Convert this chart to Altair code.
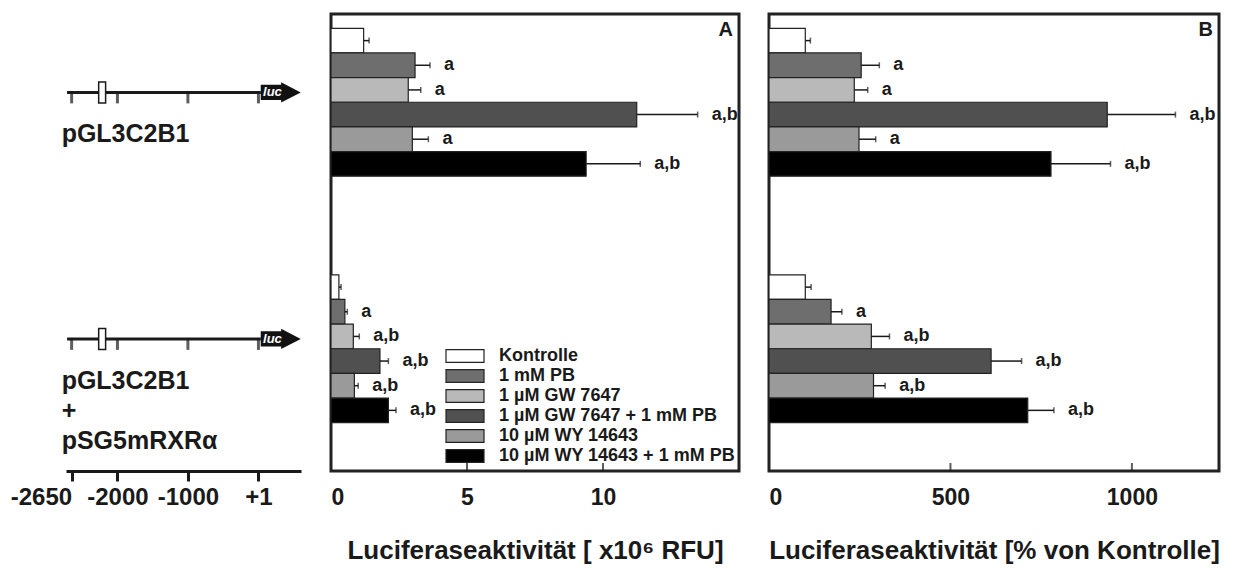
import altair as alt
import pandas as pd

# ---------------- data ----------------
treatments = ["Kontrolle", "1 mM PB", "1 µM GW 7647", "1 µM GW 7647 + 1 mM PB",
              "10 µM WY 14643", "10 µM WY 14643 + 1 mM PB"]
fill_colors = ["#ffffff", "#6e6e6e", "#b9b9b9", "#505050", "#9a9a9a", "#000000"]
constructs = ["pGL3C2B1", "pGL3C2B1\n+\npSG5mRXRα"]

# Panel A: luciferase activity [x10^6 RFU]
rfu_top = [1.20, 3.09, 2.84, 11.24, 2.99, 9.38]
rfu_top_err = [0.20, 0.55, 0.46, 2.24, 0.59, 1.99]
rfu_bot = [0.29, 0.51, 0.82, 1.80, 0.86, 2.11]
rfu_bot_err = [0.08, 0.09, 0.22, 0.31, 0.14, 0.28]

# Panel B: luciferase activity [% of control]
pct_top = [100, 254, 235, 932, 248, 777]
pct_top_err = [14, 50, 37, 188, 46, 164]
pct_bot = [100, 171, 282, 612, 288, 713]
pct_bot_err = [16, 30, 50, 84, 32, 72]

sig_top = ["", "a", "a", "a,b", "a", "a,b"]
sig_bot = ["", "a", "a,b", "a,b", "a,b", "a,b"]

ticks_a = [5, 10]
ticks_b = [500, 1000]

# promoter schematic (bp)
promoter_ticks = [-2650, -2000, -1000, 1]
promoter_start = -2715
luc_start = 35
luc_end = 600
site_center = -2217
luc_label_pos = 200

# ---------------- layout constants ----------------
GROUP_START = [0.58, 10.58]
LINE_OFFSET = 2.6
Y_MAX = 18.54
FONT = "Liberation Sans"
INK = "#1a1a1a"

rows = []
vals = [(rfu_top, rfu_top_err, pct_top, pct_top_err, sig_top),
        (rfu_bot, rfu_bot_err, pct_bot, pct_bot_err, sig_bot)]
for g, (ra, rae, pb, pbe, sg) in enumerate(vals):
    for i, t in enumerate(treatments):
        s = GROUP_START[g] + i
        rows.append(dict(construct=constructs[g], treatment=t, y0=s, y1=s + 1, mid=s + 0.5,
                         rfu=ra[i], rfu_hi=ra[i] + rae[i],
                         pct=pb[i], pct_hi=pb[i] + pbe[i], sig=sg[i]))
df = pd.DataFrame(rows)

cons_df = pd.DataFrame({
    "construct": constructs,
    "line_y": [GROUP_START[0] + LINE_OFFSET, GROUP_START[1] + LINE_OFFSET],
    "start": [promoter_start] * 2,
    "end": [luc_start] * 2,
    "site": [site_center] * 2,
    "arrow": [(luc_start + luc_end) / 2] * 2,
    "luc": [luc_label_pos] * 2,
    "label_x": [promoter_ticks[0]] * 2,
})
tick_rows = [dict(construct=c, line_y=ly, bp=b)
             for c, ly in zip(cons_df["construct"], cons_df["line_y"]) for b in promoter_ticks]
ptick_df = pd.DataFrame(tick_rows)

yscale = alt.Scale(domain=[0, Y_MAX], reverse=True, nice=False, zero=False)

# ---------------- promoter schematic ----------------
xs_d = alt.Scale(domain=[-2730, 605], nice=False, zero=False)
diag_axis = alt.Axis(values=promoter_ticks, title=None, grid=False,
                     domainWidth=3, domainColor=INK, tickWidth=3, tickColor=INK, tickSize=10,
                     labelFontSize=24, labelFontWeight="bold", labelColor=INK, labelPadding=4,
                     labelExpr="datum.value > 0 ? '+' + datum.value : '' + datum.value",
                     labelAlign={"condition": {"test": "datum.value < -2500", "value": "right"},
                                 "value": "center"})
base_d = alt.Chart(cons_df)
line = base_d.mark_rule(strokeWidth=3, color=INK).encode(
    x=alt.X("start:Q", scale=xs_d, axis=diag_axis), x2="end:Q",
    y=alt.Y("line_y:Q", scale=yscale, axis=None))
pticks = alt.Chart(ptick_df).mark_tick(orient="vertical", size=11, thickness=3, yOffset=5.5,
                                        color=INK).encode(x="bp:Q", y="line_y:Q")
site = base_d.mark_point(shape="M-0.33,-1H0.33V1H-0.33Z", size=441, filled=True, fill="white",
                         stroke=INK, strokeWidth=1.5, opacity=1).encode(x="site:Q", y="line_y:Q")
arrow = base_d.mark_point(shape="M-1,-0.38H0.02V-0.51L1,0L0.02,0.51V0.38H-1Z", size=1600,
                          filled=True, color="#111", opacity=1).encode(x="arrow:Q", y="line_y:Q")
luc = base_d.mark_text(text="luc", color="white", fontSize=13, fontWeight="bold",
                       fontStyle="italic", baseline="middle").encode(x="luc:Q", y="line_y:Q")
clabel = base_d.mark_text(align="left", baseline="top", dx=-10, dy=30, fontSize=25,
                          fontWeight="bold", lineBreak="\n", lineHeight=30, color=INK).encode(
    x="label_x:Q", y="line_y:Q", text="construct:N")
diagram = alt.layer(line, pticks, site, arrow, luc, clabel).properties(
    width=235, height=457, view=alt.ViewBackground(strokeOpacity=0))


# ---------------- bar panels ----------------
def panel(val, hi, dmax, ticks, axis_values, title, letter, width, legend):
    xs = alt.Scale(domain=[0, dmax], nice=False, zero=True)
    ax = alt.Axis(values=axis_values, grid=False, domain=False, ticks=False, tickSize=0,
                  format="d",
                  labelFontSize=23, labelFontWeight="bold", labelColor=INK, labelPadding=15,
                  title=title, titleFontSize=26, titleFontWeight="bold", titleColor=INK,
                  titlePadding=28)
    base = alt.Chart(df)
    bars = base.mark_rect(stroke="#222", strokeWidth=1.2, opacity=1).encode(
        x=alt.X(f"{val}:Q", scale=xs, axis=ax), x2=alt.datum(0),
        y=alt.Y("y0:Q", scale=yscale, axis=None), y2="y1:Q",
        color=alt.Color("treatment:N", scale=alt.Scale(domain=treatments, range=fill_colors),
                        legend=legend))
    err = base.mark_rule(strokeWidth=1.5, color=INK).encode(x=f"{val}:Q", x2=f"{hi}:Q", y="mid:Q")
    cap = base.mark_tick(orient="vertical", size=6, thickness=1.5, color=INK).encode(
        x=f"{hi}:Q", y="mid:Q")
    sig = base.mark_text(align="left", baseline="middle", dx=14, fontSize=18, fontWeight="bold",
                         color=INK).encode(x=f"{hi}:Q", y="mid:Q", text="sig:N")
    inner = alt.Chart(pd.DataFrame({"v": ticks})).mark_tick(
        orient="vertical", size=8, thickness=2, yOffset=-4, color=INK).encode(
        x="v:Q", y=alt.datum(Y_MAX))
    lett = alt.Chart(pd.DataFrame({"t": [letter]})).mark_text(
        align="right", baseline="top", dx=-6, dy=6, fontSize=20, fontWeight="bold",
        color=INK).encode(x=alt.datum(dmax), y=alt.datum(0), text="t:N")
    return alt.layer(bars, err, cap, sig, inner, lett).properties(width=width, height=457)


legend_a = alt.Legend(title=None, orient="none", legendX=114, legendY=332, padding=0,
                      symbolType="M-1,-0.34H1V0.34H-1Z", symbolSize=1444,
                      symbolStrokeColor="#222", symbolStrokeWidth=1.2, symbolOpacity=1,
                      labelFontSize=18, labelFontWeight="bold", labelColor=INK,
                      labelOffset=14, labelLimit=400, rowPadding=0, clipHeight=20)

panel_a = panel("rfu", "rfu_hi", 15, ticks_a, [0, 5, 10],
                "Luciferaseaktivität [ x10⁶ RFU]", "A", 408, legend_a)
panel_b = panel("pct", "pct_hi", 1240, ticks_b, [0, 500, 1000],
                "Luciferaseaktivität [% von Kontrolle]", "B", 450, None)

chart = alt.hconcat(diagram, panel_a, panel_b, spacing=30, bounds="flush").resolve_scale(
    x="independent", y="independent", color="independent"
).properties(
    padding={"left": 2, "top": 4, "right": 5, "bottom": 5}, background="white"
).configure(font=FONT).configure_view(stroke="#222", strokeWidth=3)

chart.save("out.html", embed_options={"renderer": "svg", "actions": False})
